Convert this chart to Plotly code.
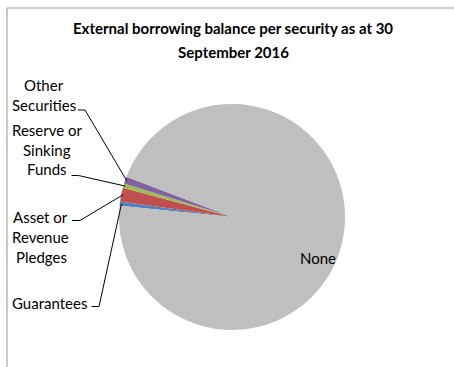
import math
import plotly.graph_objects as go

# ---------------- data ----------------
categories = ["Guarantees", "Asset or Revenue Pledges", "Reserve or Sinking Funds",
              "Other Securities", "None"]
values = [0.6, 2.0, 0.6, 1.0, 95.8]
title_lines = ["External borrowing balance per security as at 30", "September 2016"]

# ---------------- style / layout ----------------
colors = ["#4F81BD", "#C0504D", "#9BBB59", "#8064A2", "#BFBFBF"]
W, H = 454, 367
FONT = "Lato"
CX, CY, R = 232, 217, 113          # pie centre / radius in pixels
ROT = 275.7                         # start angle (deg, clockwise from 12 o'clock)


def px(x):
    return x / W


def py(y):
    return 1 - y / H


fig = go.Figure(go.Pie(
    labels=categories,
    values=values,
    marker=dict(colors=colors, line=dict(width=0)),
    sort=False,
    direction="clockwise",
    rotation=ROT,
    textinfo="none",
    hoverinfo="label+percent",
    showlegend=False,
    domain=dict(x=[px(CX - R), px(CX + R)], y=[py(CY + R), py(CY - R)]),
))

# slice mid-angles computed from the data (same geometry as plotly)
total = sum(values)
mids = []
acc = 0.0
for v in values:
    a = math.radians(ROT + (acc + v / 2) / total * 360)
    mids.append((CX + R * 0.985 * math.sin(a), CY - R * 0.985 * math.cos(a)))
    acc += v

# label text lines: (text, x centre, y centre)
label_lines = {
    "Other Securities": [("Other", 43.5, 85), ("Securities", 44, 105)],
    "Reserve or Sinking Funds": [("Reserve or", 46.5, 130), ("Sinking", 47, 150), ("Funds", 47, 169)],
    "Asset or Revenue Pledges": [("Asset or", 40, 217), ("Revenue", 40.5, 237), ("Pledges", 41, 257)],
    "Guarantees": [("Guarantees", 49.5, 303)],
}
# leader line start (label side) pixel points: (x_start, x_bend, y)
leader_start = {
    "Other Securities": (78, 85, 110),
    "Reserve or Sinking Funds": (71.5, 78.5, 175.5),
    "Asset or Revenue Pledges": (72, 80, 220.5),
    "Guarantees": (91.5, 99, 306.5),
}

annotations = []
for i, t in enumerate(title_lines):
    annotations.append(dict(text="<b>%s</b>" % t, x=px(233.5), y=py(28 + 24 * i),
                            xref="paper", yref="paper", showarrow=False,
                            xanchor="center", yanchor="middle",
                            font=dict(family=FONT, size=15, color="#000000")))
for cat, lines in label_lines.items():
    for text, x, y in lines:
        annotations.append(dict(text=text, x=px(x), y=py(y), xref="paper", yref="paper",
                                showarrow=False, xanchor="center", yanchor="middle",
                                font=dict(family=FONT, size=15, color="#000000")))
annotations.append(dict(text="None", x=px(318), y=py(258), xref="paper", yref="paper",
                        showarrow=False, xanchor="center", yanchor="middle",
                        font=dict(family=FONT, size=15, color="#000000")))

shapes = [dict(type="rect", xref="paper", yref="paper",
               x0=px(7), x1=px(W + 10), y0=py(H + 10), y1=py(8),
               line=dict(color="#A6A6A6", width=1.2), fillcolor="rgba(0,0,0,0)")]
for cat, (xs, xb, y) in leader_start.items():
    ex, ey = mids[categories.index(cat)]
    path = "M %f,%f L %f,%f L %f,%f" % (px(xs), py(y), px(xb), py(y), px(ex), py(ey))
    shapes.append(dict(type="path", xref="paper", yref="paper", path=path,
                       line=dict(color="#000000", width=1)))

fig.update_layout(
    width=W, height=H,
    margin=dict(l=0, r=0, t=0, b=0),
    paper_bgcolor="#FFFFFF",
    plot_bgcolor="#FFFFFF",
    annotations=annotations,
    shapes=shapes,
)

fig.write_html("out.html")
